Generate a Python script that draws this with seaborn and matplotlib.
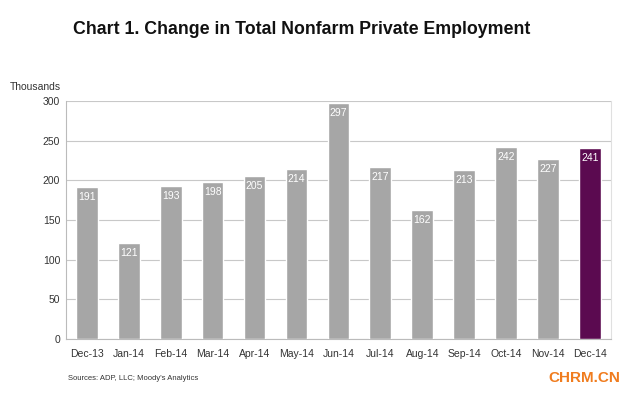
import pandas as pd
import matplotlib.pyplot as plt
import seaborn as sns

# ── data ─────────────────────────────────────────────────────
months = ["Dec-13", "Jan-14", "Feb-14", "Mar-14", "Apr-14", "May-14", "Jun-14",
          "Jul-14", "Aug-14", "Sep-14", "Oct-14", "Nov-14", "Dec-14"]
change = [191, 121, 193, 198, 205, 214, 297, 217, 162, 213, 242, 227, 241]
yticks = [0, 50, 100, 150, 200, 250, 300]

df = pd.DataFrame({"month": months, "change": change})
colors = ["#A6A6A6"] * (len(months) - 1) + ["#5B0A50"]

# ── plot ─────────────────────────────────────────────────────
sns.set_style("white")
plt.rcParams["font.family"] = ["Liberation Sans", "DejaVu Sans"]

fig = plt.figure(figsize=(6.32, 3.96), dpi=100)
ax = fig.add_axes([0.104, 0.144, 0.863, 0.601])

sns.barplot(data=df, x="month", y="change", hue="month", palette=colors,
            legend=False, width=0.52, saturation=1, ax=ax, zorder=3)

ax.set_ylim(0, 300)
ax.set_yticks(yticks)
ax.set_xlim(-0.5, len(months) - 0.5)
ax.yaxis.grid(True, color="#C8C8C8", linewidth=0.8, zorder=0)
ax.set_axisbelow(True)
ax.set_xlabel("")
ax.set_ylabel("")
ax.tick_params(axis="both", labelsize=7.5, colors="#333333", length=0, pad=4)
ax.tick_params(axis="x", pad=7)

# small ticks between categories on the x axis
ax.set_xticks([i + 0.5 for i in range(len(months) - 1)], minor=True)
ax.tick_params(axis="x", which="minor", length=3, width=0.8, color="#AAAAAA",
               direction="out")

ax.spines["top"].set_visible(False)
ax.spines["left"].set_color("#BBBBBB")
ax.spines["bottom"].set_color("#BBBBBB")
ax.spines["right"].set_color("#E0E0E0")
for s in ax.spines.values():
    s.set_linewidth(0.8)

# value labels inside the bars
for i, v in enumerate(change):
    ax.text(i, v - 6, str(v), ha="center", va="top", color="white",
            fontsize=7.5, zorder=4)

fig.text(0.115, 0.925, "Chart 1. Change in Total Nonfarm Private Employment",
         fontsize=12.8, fontweight="bold", color="#111111", va="center")
fig.text(0.016, 0.78, "Thousands", fontsize=7.5, color="#333333", va="center")
fig.text(0.107, 0.045, "Sources: ADP, LLC; Moody's Analytics",
         fontsize=5.5, color="#333333", va="center")
fig.text(0.982, 0.045, "CHRM.CN", fontsize=11, fontweight="bold",
         color="#F07C1E", ha="right", va="center")

fig.savefig("out.png", dpi=100)
